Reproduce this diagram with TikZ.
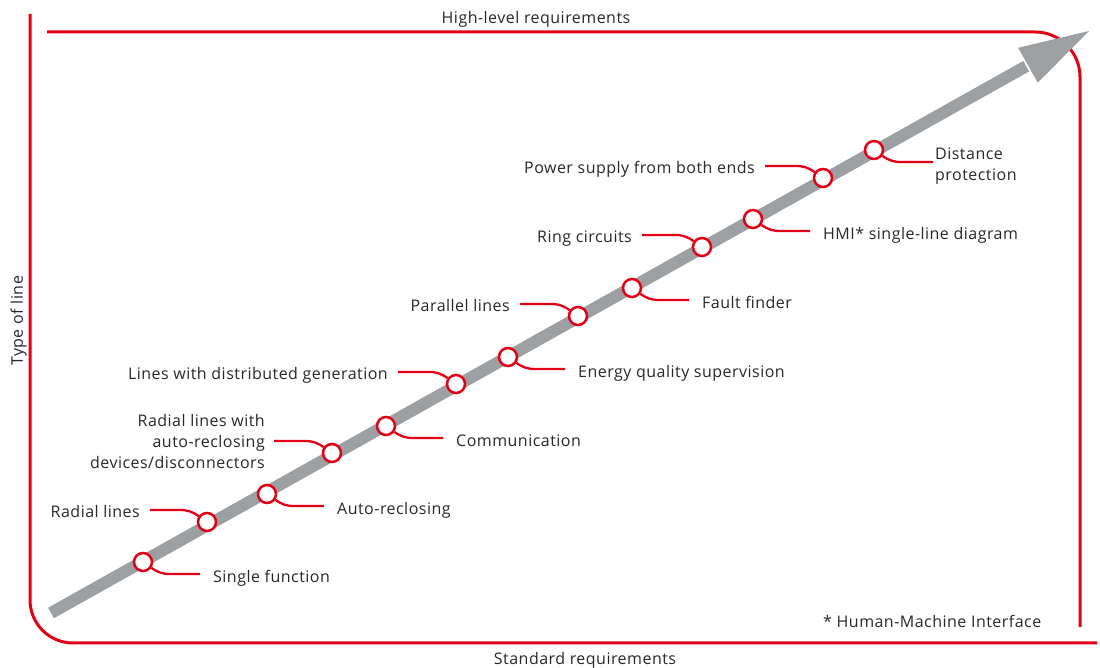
\documentclass[tikz,border=0pt]{standalone}
\usepackage{fontspec}
\setmainfont[LetterSpace=3]{Open Sans}
\usetikzlibrary{calc}
\definecolor{abbred}{RGB}{227,0,22}
\definecolor{arrowgray}{RGB}{157,160,162}
\definecolor{txt}{RGB}{40,40,40}
\begin{document}
\begin{tikzpicture}[x=1pt,y=1pt,
  frame/.style={draw=abbred,line width=3pt},
  conn/.style={draw=abbred,line width=2.3pt},
  dot/.style={circle,draw=abbred,fill=white,line width=2.5pt,minimum size=18pt,inner sep=0pt},
  lbl/.style={text=txt,font=\fontsize{16}{21}\selectfont,inner sep=0pt}]
\useasboundingbox (0,0) rectangle (1100,668);
% frame
\draw[frame, rounded corners=43pt] (30,654) -- (30,25) -- (1097,25);
\draw[frame, rounded corners=45pt] (47,636) -- (1080,636) -- (1080,41);
% main arrow
\coordinate (as) at (51,55);
\coordinate (tip) at (1089,637);
\coordinate (hb) at ($(tip)!70pt!(as)$);
\draw[arrowgray, line width=12pt] (as) -- ($(hb)!-2pt!(tip)$);
\fill[arrowgray] (tip) -- ($(hb)!20pt!90:(tip)$) -- ($(hb)!20pt!-90:(tip)$) -- cycle;
% circles
\node[dot] (c1) at (143,106) {};
\node[dot] (c2) at (207,146) {};
\node[dot] (c3) at (267,174) {};
\node[dot] (c4) at (332,215) {};
\node[dot] (c5) at (386,242) {};
\node[dot] (c6) at (456,284) {};
\node[dot] (c7) at (508,311) {};
\node[dot] (c8) at (578,352) {};
\node[dot] (c9) at (632,380) {};
\node[dot] (c10) at (702,421) {};
\node[dot] (c11) at (753,449) {};
\node[dot] (c12) at (823,490) {};
\node[dot] (c13) at (874,518) {};
% right labels
\node[lbl,anchor=base west] (t1) at (213,85) {Single function};
\node[lbl,anchor=base west] (t3) at (337,153) {Auto-reclosing};
\node[lbl,anchor=base west] (t5) at (456,221) {Communication};
\node[lbl,anchor=base west] (t7) at (578,290) {Energy quality supervision};
\node[lbl,anchor=base west] (t9) at (702,359) {Fault finder};
\node[lbl,anchor=base west] (t11) at (823,428) {HMI* single-line diagram};
\node[lbl,anchor=west,align=left] (t13) at (935,502) {Distance\\protection};
% left labels
\node[lbl,anchor=base east] (t2) at (140,150) {Radial lines};
\node[lbl,anchor=east,align=right] (t4) at (265,226) {Radial lines with\\auto-reclosing\\devices/disconnectors};
\node[lbl,anchor=base east] (t6) at (388,288) {Lines with distributed generation};
\node[lbl,anchor=base east] (t8) at (510,356) {Parallel lines};
\node[lbl,anchor=base east] (t10) at (632,425) {Ring circuits};
\node[lbl,anchor=base east] (t12) at (755,494) {Power supply from both ends};
% connectors
\foreach \i in {1,3,5,7,9,11}
  \draw[conn,shorten >=13pt] (c\i.-35) to[out=-35,in=180] ([xshift=27pt,yshift=-12pt]c\i.center) -- ([yshift=9pt]t\i.base west);
\draw[conn,shorten >=2pt] (c13.-35) to[out=-35,in=180] ([xshift=27pt,yshift=-12pt]c13.center) -- ([yshift=4pt]t13.west);
\foreach \i in {2,6,8,10,12}
  \draw[conn,shorten >=10pt] (c\i.145) to[out=145,in=0] ([xshift=-27pt,yshift=12pt]c\i.center) -- ([yshift=8pt]t\i.base east);
\draw[conn,shorten >=9pt] (c4.145) to[out=145,in=0] ([xshift=-27pt,yshift=12pt]c4.center) -- ([yshift=1pt]t4.east);
% axis and frame labels
\node[lbl,anchor=base] (hl) at (536,644) {High-level requirements};
\node[lbl,anchor=base] (sr) at (585,3) {Standard requirements};
\node[lbl,anchor=base,rotate=90] (tl) at (23,347) {Type of line};
\node[lbl,anchor=base west] (hmi) at (823,40) {* Human-Machine Interface};
\end{tikzpicture}
\end{document}
